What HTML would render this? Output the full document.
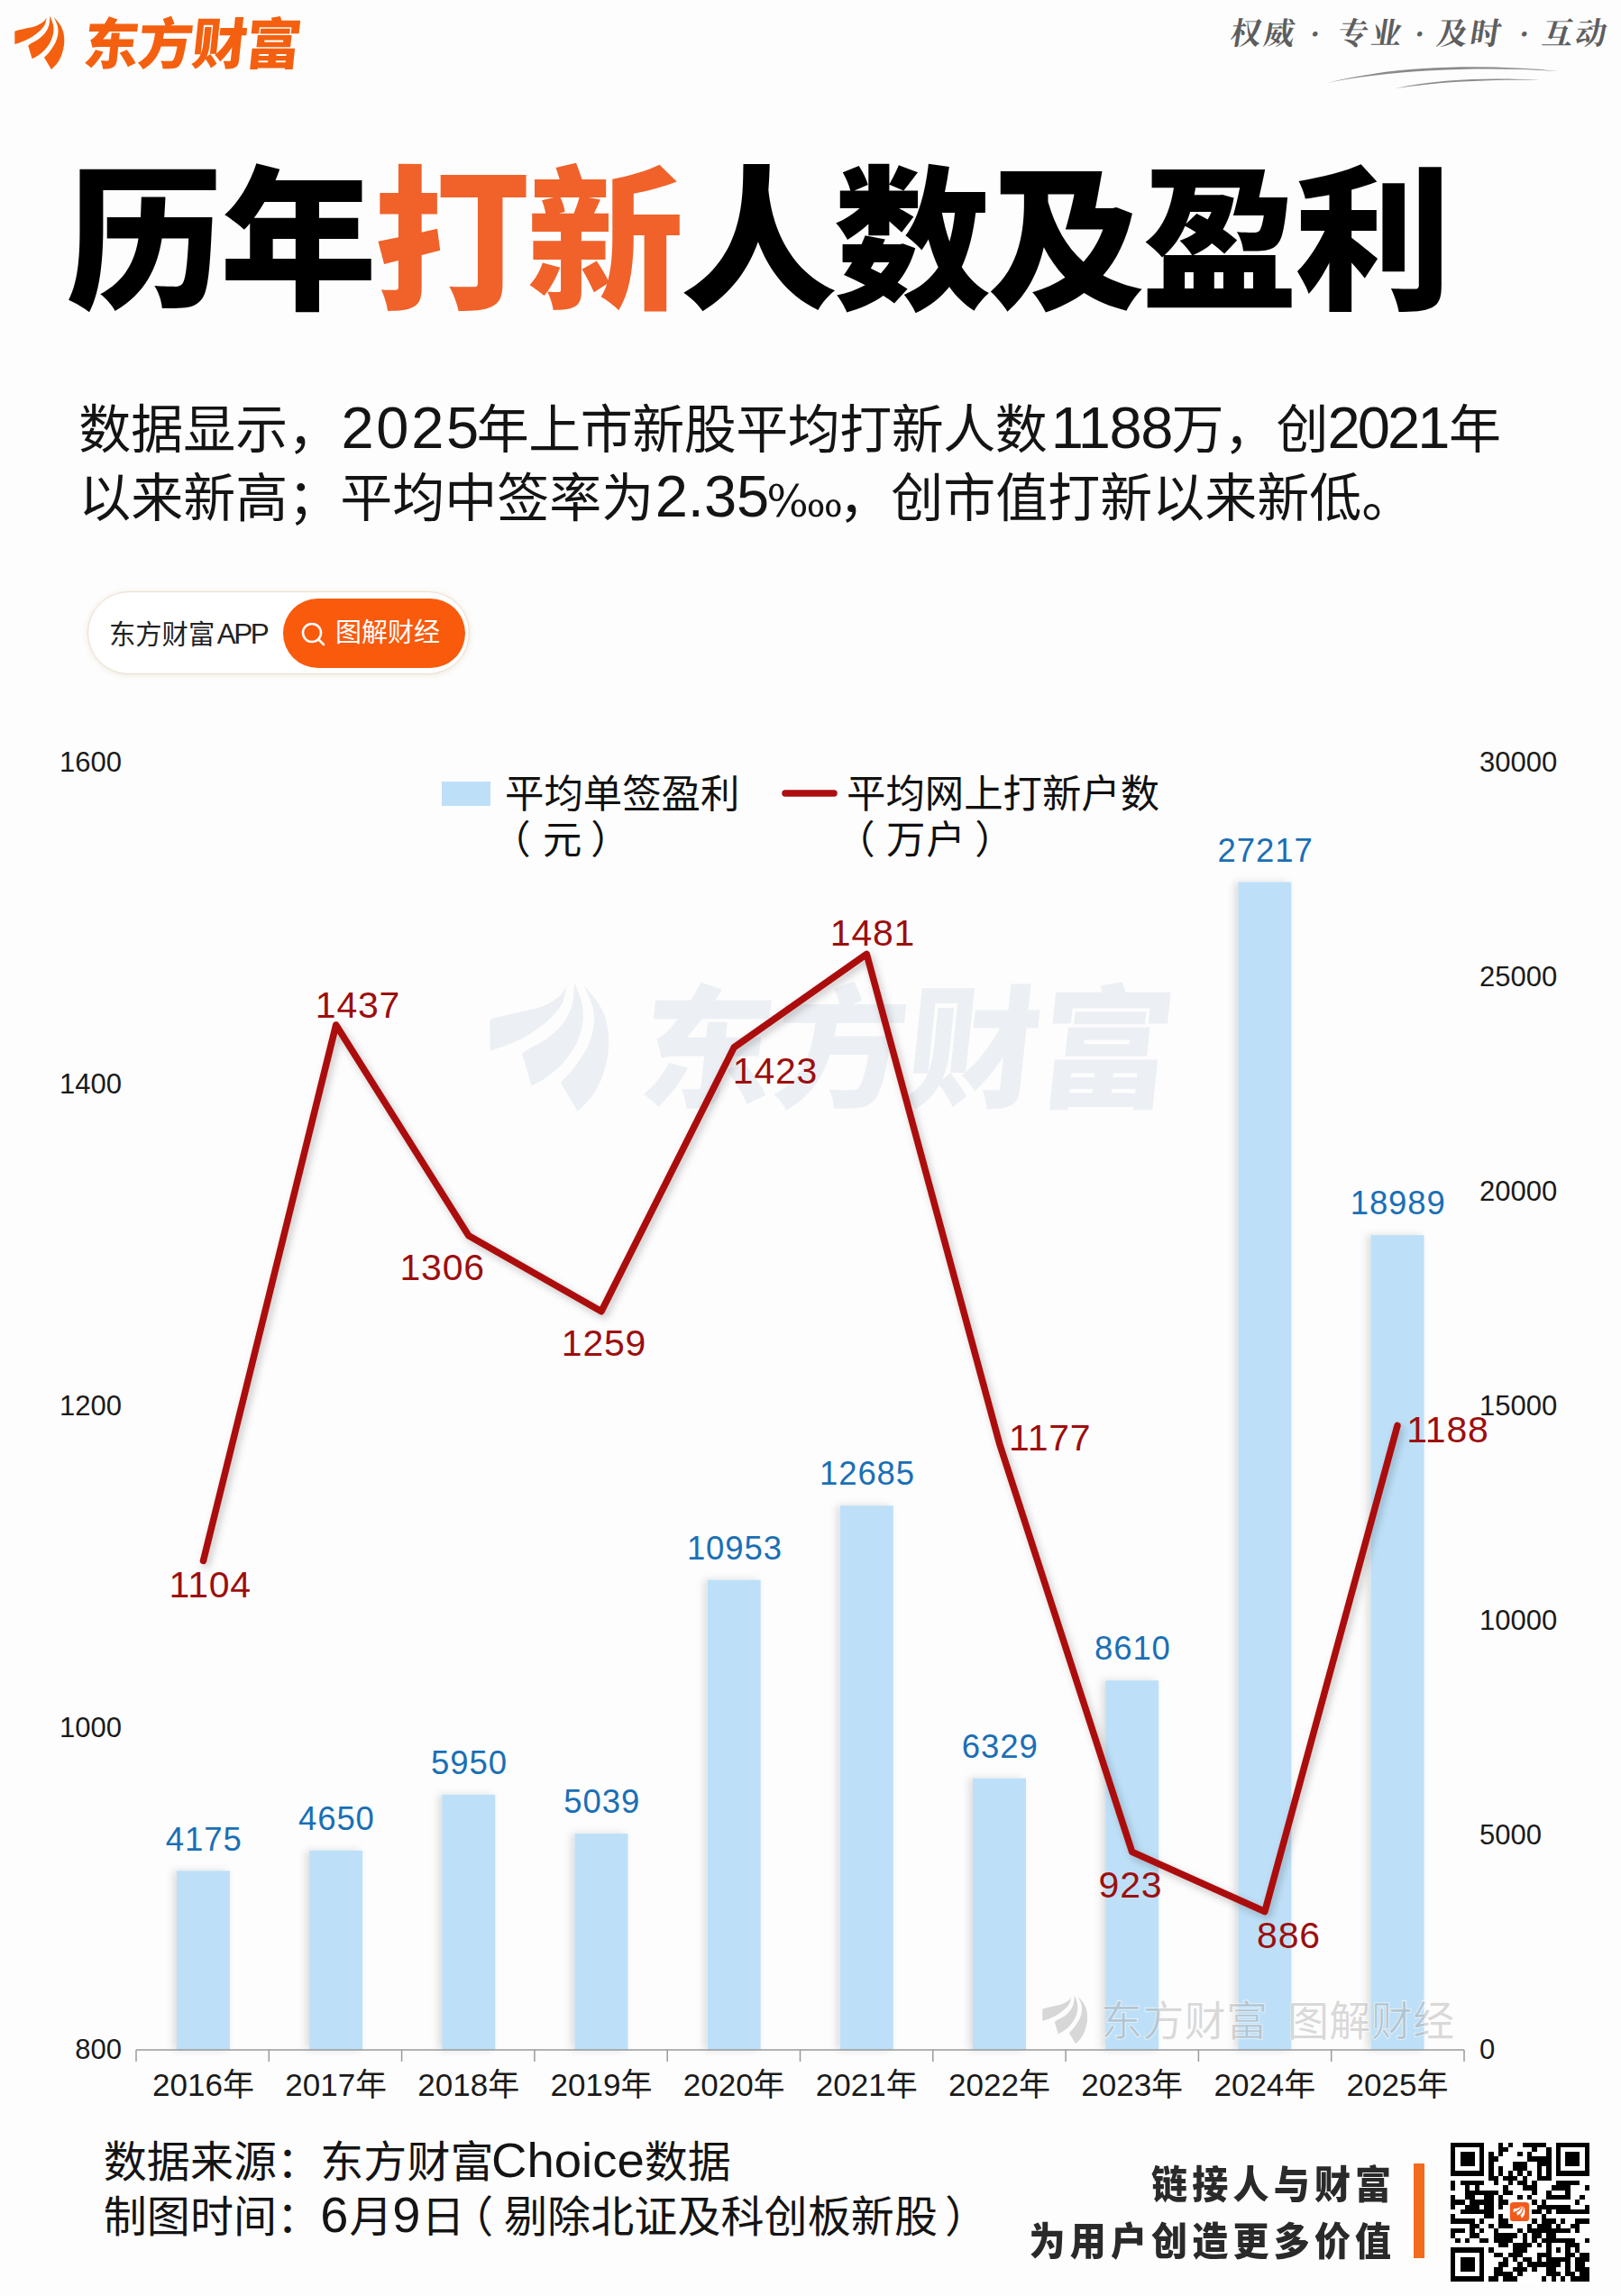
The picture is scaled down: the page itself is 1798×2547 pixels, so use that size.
<!DOCTYPE html>
<html lang="zh-CN">
<head>
<meta charset="utf-8">
<title>历年打新人数及盈利</title>
<style>
html,body{margin:0;padding:0;}
body{width:1798px;height:2547px;position:relative;overflow:hidden;background:#fdfdfd;font-family:"Liberation Sans","Noto Sans CJK SC",sans-serif;color:#111;}
.abs{position:absolute;white-space:nowrap;line-height:1;}
svg.chart{position:absolute;left:0;top:0;}
.logo-ic{left:8px;top:8px;width:80px;height:80px;}
.logo-tx{left:90px;top:19.5px;font-size:61px;font-weight:900;color:#f4600f;font-family:"Liberation Sans","Noto Sans CJK SC",sans-serif;letter-spacing:-1px;transform:skewX(-6deg);transform-origin:left bottom;}
.slogan{left:0;top:21px;font-size:34px;color:#5e5e5e;font-family:"Liberation Serif","Noto Serif CJK SC",serif;font-weight:700;letter-spacing:3px;}
.slogan span{position:absolute;top:0;transform:skewX(-9deg);}
.title{left:73.6px;top:182.6px;font-size:174px;font-weight:900;font-family:"Liberation Sans","Noto Sans CJK SC",sans-serif;color:#000;letter-spacing:-3.7px;transform:scaleY(0.988);transform-origin:left center;}
.title em{font-style:normal;color:#f0622a;}
.para{left:87.2px;top:439px;font-size:58px;color:#141414;}
.para .ln{position:absolute;left:0;height:76px;line-height:76px;white-space:nowrap;}
.n{display:inline-block;box-sizing:border-box;font-size:65px;line-height:1;white-space:nowrap;}
.pm{display:inline-block;box-sizing:border-box;font-family:"DejaVu Serif",serif;font-size:49px;line-height:1;letter-spacing:-1px;}
.pill{left:97px;top:656px;width:422px;height:90px;border-radius:46px;background:#fff;border:1px solid #eadfce;box-shadow:0 1px 6px rgba(200,170,120,0.25);}
.pill .t1{left:23px;top:31px;font-size:29.3px;color:#222;}
.pill .btn{left:216px;top:7px;width:202px;height:77px;border-radius:39px;background:#f95a0c;}
.pill .btn .t2{left:58px;top:24px;font-size:29px;color:#fff;}
.pill .btn svg{position:absolute;left:19px;top:25px;}
.foot{left:114.7px;top:2368px;font-size:48px;letter-spacing:0.1px;color:#141414;}
.foot .ln{position:absolute;left:0;height:61px;line-height:61px;white-space:nowrap;}
.foot .n{font-size:56px;letter-spacing:0;}
.slg{right:249.7px;text-align:right;font-size:40px;transform:scaleY(1.07);transform-origin:right bottom;font-weight:900;font-family:"Liberation Sans","Noto Sans CJK SC",sans-serif;color:#2a2a2a;letter-spacing:5.2px;}
.obar{left:1568px;top:2400px;width:12px;height:105px;background:#f26a1b;}
svg.qr{position:absolute;left:1609px;top:2376px;}
</style>
</head>
<body>
<svg class="chart" width="1798" height="2547" viewBox="0 0 1798 2547">
<defs>
<filter id="ls" x="-5%" y="-5%" width="110%" height="110%"><feDropShadow dx="3" dy="4" stdDeviation="4" flood-color="#000" flood-opacity="0.22"/></filter>
<filter id="bs" x="-40%" y="-5%" width="180%" height="110%"><feDropShadow dx="-4" dy="0" stdDeviation="4" flood-color="#000" flood-opacity="0.13"/></filter>
<symbol id="wing" viewBox="0 0 80 80"><path d="M8.3 27.5 C8.5 27.3 7.6 26.8 9.5 26.2 C11.4 25.6 15.9 24.6 19.7 23.7 C23.5 22.8 28.6 22.0 32.1 20.7 C35.6 19.4 38.6 17.4 40.5 15.8 C42.4 14.2 43.2 11.7 43.7 10.9 C43.3 12.4 43.0 16.9 41.5 19.7 C40.0 22.5 37.4 25.1 34.6 27.6 C31.8 30.1 28.0 32.7 24.7 34.6 C21.4 36.5 17.5 37.9 14.8 39.0 C12.1 40.1 9.5 40.7 8.4 41.0 Z"/><path d="M23.2 42.4 C23.9 41.9 25.7 40.6 27.6 39.5 C29.5 38.4 32.2 37.3 34.6 35.5 C37.0 33.7 40.0 31.2 42.0 28.6 C44.0 26.0 45.5 22.9 46.4 19.7 C47.3 16.5 47.2 11.1 47.4 9.4 C48.0 11.0 50.1 15.8 50.8 18.8 C51.4 21.8 51.7 24.5 51.3 27.6 C50.9 30.7 49.9 34.3 48.4 37.5 C46.9 40.7 44.3 44.3 42.0 46.9 C39.7 49.5 37.0 51.6 34.6 53.3 C32.2 55.0 28.8 56.6 27.6 57.3 Z"/><path d="M41.0 55.8 C42.0 54.7 44.9 52.1 46.9 49.4 C48.9 46.7 51.7 42.8 53.3 39.5 C54.9 36.2 55.9 32.7 56.3 29.6 C56.7 26.5 56.5 23.8 55.8 20.7 C55.0 17.6 52.5 12.5 51.8 10.9 C52.9 12.2 56.5 16.0 58.2 18.8 C59.9 21.6 61.4 24.2 62.2 27.6 C63.0 31.1 63.5 35.5 63.2 39.5 C63.0 43.5 61.9 48.1 60.7 51.8 C59.5 55.5 57.8 58.8 55.8 61.7 C53.8 64.6 50.0 67.9 48.9 69.1 Z"/></symbol>
</defs>
<g fill="#eceff4">
<use href="#wing" x="523.4" y="1067" width="192" height="192"/>
<text x="0" y="0" transform="translate(706 1217) skewX(-6)" font-family="'Liberation Sans','Noto Sans CJK SC',sans-serif" font-weight="900" font-size="147" textLength="590" lengthAdjust="spacing">东方财富</text>
</g>
<g fill="#bde0f8" filter="url(#bs)">
<rect x="196.0" y="2075.3" width="59" height="198.7"/>
<rect x="343.2" y="2052.7" width="59" height="221.3"/>
<rect x="490.3" y="1990.8" width="59" height="283.2"/>
<rect x="637.5" y="2034.1" width="59" height="239.9"/>
<rect x="784.7" y="1752.6" width="59" height="521.4"/>
<rect x="931.8" y="1670.2" width="59" height="603.8"/>
<rect x="1079.0" y="1972.7" width="59" height="301.3"/>
<rect x="1226.2" y="1864.2" width="59" height="409.8"/>
<rect x="1373.4" y="978.5" width="59" height="1295.5"/>
<rect x="1520.5" y="1370.1" width="59" height="903.9"/>
</g>
<g stroke="#9a9a9a" stroke-width="1.5" fill="none">
<path d="M151.0 2274.0 H1624.0"/>
<path d="M151.0 2274.0 v13"/>
<path d="M298.3 2274.0 v13"/>
<path d="M445.6 2274.0 v13"/>
<path d="M592.9 2274.0 v13"/>
<path d="M740.2 2274.0 v13"/>
<path d="M887.5 2274.0 v13"/>
<path d="M1034.8 2274.0 v13"/>
<path d="M1182.1 2274.0 v13"/>
<path d="M1329.4 2274.0 v13"/>
<path d="M1476.7 2274.0 v13"/>
<path d="M1624.0 2274.0 v13"/>
</g>
<g font-family="'Liberation Sans','Noto Sans CJK SC',sans-serif" fill="#1a1a1a">
<g font-size="31" text-anchor="end">
<text x="135" y="2284.4">800</text>
<text x="135" y="1927.4">1000</text>
<text x="135" y="1570.4">1200</text>
<text x="135" y="1213.4">1400</text>
<text x="135" y="856.4">1600</text>
</g><g font-size="31">
<text x="1641" y="2284.4">0</text>
<text x="1641" y="2046.4">5000</text>
<text x="1641" y="1808.4">10000</text>
<text x="1641" y="1570.4">15000</text>
<text x="1641" y="1332.4">20000</text>
<text x="1641" y="1094.4">25000</text>
<text x="1641" y="856.4">30000</text>
</g><g font-size="35" text-anchor="middle">
<text x="225.5" y="2325">2016年</text>
<text x="372.7" y="2325">2017年</text>
<text x="519.8" y="2325">2018年</text>
<text x="667.0" y="2325">2019年</text>
<text x="814.2" y="2325">2020年</text>
<text x="961.3" y="2325">2021年</text>
<text x="1108.5" y="2325">2022年</text>
<text x="1255.7" y="2325">2023年</text>
<text x="1402.9" y="2325">2024年</text>
<text x="1550.0" y="2325">2025年</text>
</g>
<rect x="490" y="867" width="54" height="27" fill="#bde0f8"/>
<path d="M871 880 H925" stroke="#ab0f11" stroke-width="7.5" stroke-linecap="round"/>
<g font-size="43.4" fill="#111">
<text x="560" y="896">平均单签盈利</text>
<text x="567" y="947" text-anchor="middle">（</text><text x="602" y="947">元</text><text x="677" y="947" text-anchor="middle">）</text>
<text x="939" y="896">平均网上打新户数</text>
<text x="949" y="947" text-anchor="middle">（</text><text x="983" y="947" letter-spacing="0.8">万户</text><text x="1103" y="947" text-anchor="middle">）</text>
</g>
<g font-size="36.5" letter-spacing="0.9" fill="#1a6fb5" text-anchor="middle">
<text x="226.2" y="2052.5">4175</text>
<text x="373.4" y="2029.9">4650</text>
<text x="520.5" y="1968.0">5950</text>
<text x="667.7" y="2011.3">5039</text>
<text x="814.9" y="1729.8">10953</text>
<text x="962.0" y="1647.4">12685</text>
<text x="1109.2" y="1949.9">6329</text>
<text x="1256.4" y="1841.4">8610</text>
<text x="1403.6" y="955.7">27217</text>
<text x="1550.7" y="1347.3">18989</text>
</g>
<g fill="#8c8c8c" fill-opacity="0.33" stroke="#ffffff" stroke-opacity="0.75" stroke-width="1.2" paint-order="stroke">
<use href="#wing" x="1148.7" y="2204.5" width="72.6" height="72.6"/>
<text x="1221" y="2258" font-size="46" textLength="185" lengthAdjust="spacing">东方财富</text>
<text x="1428" y="2258" font-size="46" textLength="185" lengthAdjust="spacing">图解财经</text>
</g>
<polyline points="225.5,1731.4 372.7,1137.0 519.8,1370.8 667.0,1454.7 814.2,1161.9 961.3,1058.4 1108.5,1601.1 1255.7,2054.4 1402.9,2120.5 1550.0,1581.4" fill="none" stroke="#ab0f11" stroke-width="7.5" stroke-linejoin="round" stroke-linecap="round" filter="url(#ls)"/>
<g font-size="41" letter-spacing="0.8" fill="#9c0f0f" text-anchor="middle">
<text x="233.3" y="1772">1104</text>
<text x="397" y="1128.5">1437</text>
<text x="490.7" y="1420.4">1306</text>
<text x="670" y="1503.7">1259</text>
<text x="860" y="1201.5">1423</text>
<text x="968" y="1048.5">1481</text>
<text x="1164.8" y="1609">1177</text>
<text x="1254" y="2105">923</text>
<text x="1429.5" y="2160.8">886</text>
<text x="1606" y="1600">1188</text>
</g>
</g>
</svg>
<svg class="abs logo-ic" viewBox="0 0 80 80" fill="#f4600f"><use href="#wing" width="80" height="80"/></svg>
<div class="abs logo-tx">东方财富</div>
<div class="abs slogan"><span style="left:1365px">权威</span><span style="left:1453px">·</span><span style="left:1484px">专业</span><span style="left:1569px">·</span><span style="left:1594px">及时</span><span style="left:1685px">·</span><span style="left:1711px">互动</span></div>
<svg class="abs" style="left:1460px;top:68px" width="290" height="40" viewBox="0 0 290 40"><path d="M12 24 C80 6 180 2 268 11 C180 5 80 10 12 24 Z" fill="#8a8a8a"/><path d="M88 30 C140 19 200 18 248 21 C200 20 140 22 88 30 Z" fill="#8a8a8a"/></svg>
<div class="abs title">历年<em>打新</em>人数及盈利</div>
<div class="abs para"><div class="ln" style="top:0">数据显示，<span class="n" style="width:151.5px;padding-left:1.2px;letter-spacing:2.73px">2025</span><span style="letter-spacing:-0.5px">年上市新股平均打新人数</span><span class="n" style="width:138.2px;padding-left:4.5px;letter-spacing:-1.4px">1188</span>万，创<span class="n" style="width:134.6px;margin-left:-1px;letter-spacing:-2.88px">2021</span>年</div><div class="ln" style="top:76px">以来新高；平均中签率为<span class="n" style="width:125px;padding-left:1.5px">2.35</span><span class="pm" style="width:80px">‱</span>，创市值打新以来新低。</div></div>
<div class="abs pill"><div class="abs t1">东方财富<span style="font-size:31.5px;letter-spacing:-2.5px;margin-left:2.5px">APP</span></div><div class="abs btn"><svg width="30" height="30" viewBox="0 0 30 30" fill="none" stroke="#fff" stroke-width="2.6" stroke-linecap="round"><circle cx="13" cy="13" r="10"/><path d="M20.5 20.5 L26 26"/></svg><div class="abs t2">图解财经</div></div></div>
<div class="abs foot"><div class="ln" style="top:0">数据来源：东方财富<span class="n" style="font-size:54.5px;margin-left:-2.5px;width:169.6px">Choice</span>数据</div><div class="ln" style="top:61px">制图时间：<span class="n" style="width:32.4px">6</span>月<span class="n" style="width:32.2px;margin-left:-0.5px">9</span>日<span style="display:inline-block;margin-left:-16.3px;width:59.8px">（</span>剔除北证及科创板新股<span style="margin-left:8px">）</span></div></div>
<div class="abs slg" style="top:2404.5px">链接人与财富</div>
<div class="abs slg" style="top:2468px">为用户创造更多价值</div>
<div class="abs obar"></div>
<svg class="qr" width="154" height="155" viewBox="0 0 29 29" shape-rendering="crispEdges">
<rect width="29" height="29" fill="#fff"/>
<path d="M0 0h7v1h-7zM10 0h1v1h-1zM12 0h1v1h-1zM15 0h5v1h-5zM22 0h7v1h-7zM0 1h1v1h-1zM6 1h1v1h-1zM10 1h2v1h-2zM17 1h1v1h-1zM20 1h1v1h-1zM22 1h1v1h-1zM28 1h1v1h-1zM0 2h1v1h-1zM2 2h3v1h-3zM6 2h1v1h-1zM8 2h1v1h-1zM10 2h1v1h-1zM14 2h1v1h-1zM16 2h1v1h-1zM20 2h1v1h-1zM22 2h1v1h-1zM24 2h3v1h-3zM28 2h1v1h-1zM0 3h1v1h-1zM2 3h3v1h-3zM6 3h1v1h-1zM8 3h2v1h-2zM16 3h5v1h-5zM22 3h1v1h-1zM24 3h3v1h-3zM28 3h1v1h-1zM0 4h1v1h-1zM2 4h3v1h-3zM6 4h1v1h-1zM8 4h1v1h-1zM13 4h3v1h-3zM18 4h3v1h-3zM22 4h1v1h-1zM24 4h3v1h-3zM28 4h1v1h-1zM0 5h1v1h-1zM6 5h1v1h-1zM8 5h1v1h-1zM10 5h1v1h-1zM13 5h3v1h-3zM18 5h1v1h-1zM20 5h1v1h-1zM22 5h1v1h-1zM28 5h1v1h-1zM0 6h7v1h-7zM8 6h1v1h-1zM10 6h1v1h-1zM12 6h1v1h-1zM14 6h1v1h-1zM16 6h1v1h-1zM18 6h1v1h-1zM20 6h1v1h-1zM22 6h7v1h-7zM8 7h2v1h-2zM11 7h3v1h-3zM15 7h1v1h-1zM18 7h3v1h-3zM0 8h1v1h-1zM2 8h5v1h-5zM9 8h1v1h-1zM12 8h1v1h-1zM14 8h2v1h-2zM17 8h1v1h-1zM22 8h5v1h-5zM0 9h1v1h-1zM3 9h1v1h-1zM5 9h1v1h-1zM11 9h1v1h-1zM15 9h3v1h-3zM21 9h4v1h-4zM28 9h1v1h-1zM3 10h7v1h-7zM11 10h2v1h-2zM17 10h1v1h-1zM20 10h1v1h-1zM24 10h1v1h-1zM0 11h1v1h-1zM3 11h2v1h-2zM7 11h2v1h-2zM10 11h1v1h-1zM14 11h1v1h-1zM16 11h1v1h-1zM20 11h5v1h-5zM27 11h1v1h-1zM0 12h3v1h-3zM4 12h5v1h-5zM10 12h2v1h-2zM17 12h1v1h-1zM19 12h1v1h-1zM26 12h1v1h-1zM0 13h1v1h-1zM3 13h3v1h-3zM7 13h2v1h-2zM10 13h1v1h-1zM18 13h7v1h-7zM28 13h1v1h-1zM2 14h7v1h-7zM17 14h2v1h-2zM20 14h1v1h-1zM22 14h7v1h-7zM0 15h1v1h-1zM7 15h2v1h-2zM10 15h1v1h-1zM19 15h1v1h-1zM0 16h5v1h-5zM6 16h1v1h-1zM10 16h2v1h-2zM17 16h1v1h-1zM19 16h3v1h-3zM23 16h1v1h-1zM26 16h3v1h-3zM4 17h2v1h-2zM8 17h1v1h-1zM10 17h3v1h-3zM16 17h1v1h-1zM18 17h3v1h-3zM22 17h1v1h-1zM25 17h2v1h-2zM0 18h3v1h-3zM4 18h1v1h-1zM6 18h1v1h-1zM9 18h1v1h-1zM14 18h1v1h-1zM16 18h9v1h-9zM26 18h1v1h-1zM0 19h1v1h-1zM4 19h2v1h-2zM9 19h5v1h-5zM15 19h1v1h-1zM17 19h2v1h-2zM20 19h2v1h-2zM1 20h1v1h-1zM3 20h1v1h-1zM6 20h2v1h-2zM9 20h4v1h-4zM15 20h1v1h-1zM17 20h1v1h-1zM19 20h7v1h-7zM28 20h1v1h-1zM10 21h2v1h-2zM13 21h4v1h-4zM18 21h1v1h-1zM20 21h1v1h-1zM24 21h3v1h-3zM0 22h7v1h-7zM8 22h1v1h-1zM13 22h3v1h-3zM20 22h1v1h-1zM22 22h1v1h-1zM24 22h1v1h-1zM26 22h1v1h-1zM0 23h1v1h-1zM6 23h1v1h-1zM9 23h2v1h-2zM12 23h3v1h-3zM18 23h3v1h-3zM24 23h2v1h-2zM27 23h2v1h-2zM0 24h1v1h-1zM2 24h3v1h-3zM6 24h1v1h-1zM11 24h1v1h-1zM13 24h1v1h-1zM15 24h2v1h-2zM18 24h1v1h-1zM20 24h5v1h-5zM26 24h3v1h-3zM0 25h1v1h-1zM2 25h3v1h-3zM6 25h1v1h-1zM10 25h2v1h-2zM14 25h1v1h-1zM16 25h7v1h-7zM24 25h1v1h-1zM26 25h2v1h-2zM0 26h1v1h-1zM2 26h3v1h-3zM6 26h1v1h-1zM9 26h2v1h-2zM13 26h3v1h-3zM17 26h1v1h-1zM20 26h2v1h-2zM24 26h1v1h-1zM26 26h3v1h-3zM0 27h1v1h-1zM6 27h1v1h-1zM9 27h4v1h-4zM14 27h1v1h-1zM20 27h3v1h-3zM24 27h2v1h-2zM27 27h2v1h-2zM0 28h7v1h-7zM8 28h2v1h-2zM11 28h3v1h-3zM19 28h1v1h-1zM21 28h1v1h-1zM23 28h1v1h-1zM25 28h4v1h-4z" fill="#000"/>
<rect x="12.4" y="12.5" width="4" height="4" rx="0.7" fill="#f25a1d" shape-rendering="auto"/>
<use href="#wing" x="12.75" y="12.8" width="3.5" height="3.5" fill="#fff" shape-rendering="auto"/>
</svg>
</body>
</html>
